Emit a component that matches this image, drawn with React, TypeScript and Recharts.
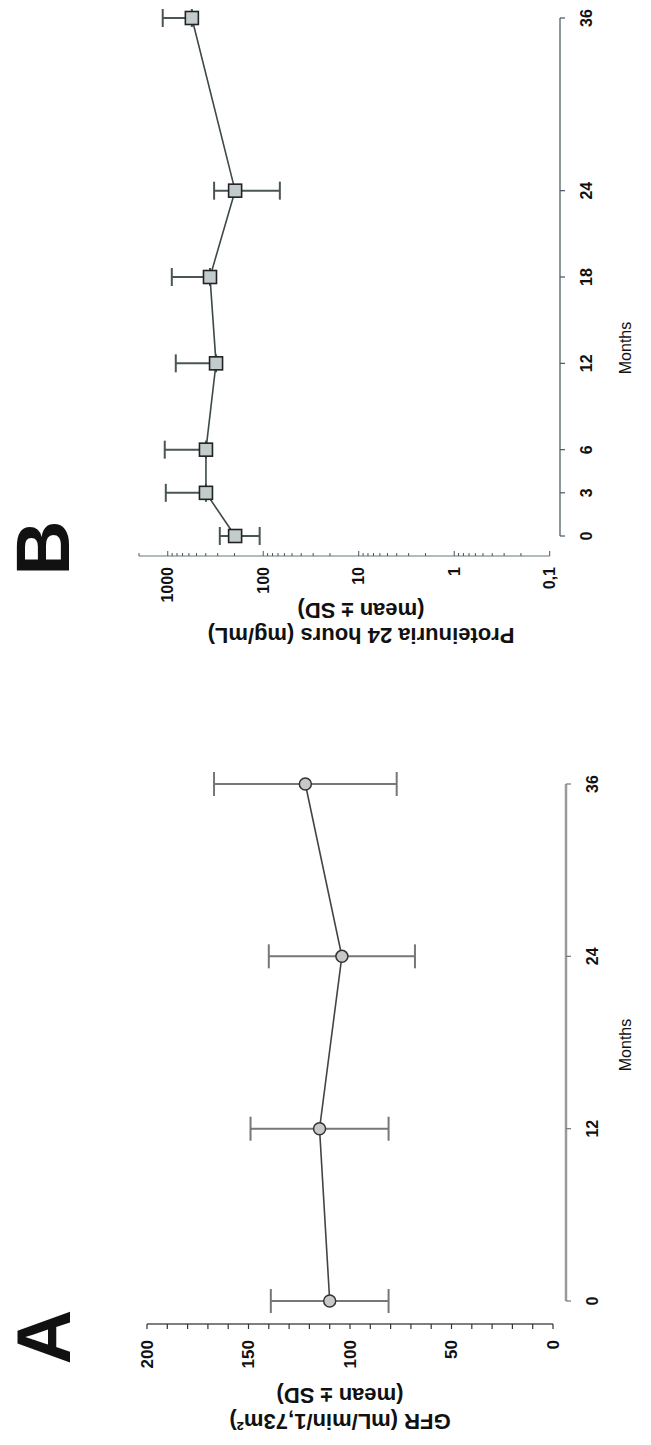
import { LineChart, Line, XAxis, YAxis, ErrorBar, ReferenceLine } from "recharts";

const FONT = '"Liberation Sans", Arial, sans-serif';

// Panel A: GFR
const gfrMonths = [0, 12, 24, 36];
const gfrMean = [110, 115, 104, 122];
const gfrSd = [29, 34, 36, 45];
const gfrTicks = [0, 10, 20, 30, 40, 50, 60, 70, 80, 90, 100, 110, 120, 130, 140, 150, 160, 170, 180, 190, 200];
const gfrLabelTicks = [0, 50, 100, 150, 200];
const gfrMonthTicks = [0, 12, 24, 36];

// Panel B: proteinuria
const protMonths = [0, 3, 6, 12, 18, 24, 36];
const protMean = [197, 398, 398, 312, 361, 197, 559];
const protSd = [88, 650, 677, 512, 546, 130, 570];
const protMajorTicks = [0.1, 1, 10, 100, 1000];
const protMajorLabels = ["0,1", "1", "10", "100", "1000"];
const protMinorTicks = [
  0.2, 0.3, 0.4, 0.5, 0.6, 0.7, 0.8, 0.9,
  2, 3, 4, 5, 6, 7, 8, 9,
  20, 30, 40, 50, 60, 70, 80, 90,
  200, 300, 400, 500, 600, 700, 800, 900, 2000,
];
const protMonthTicks = [0, 3, 6, 12, 18, 24, 36];

const A_X: [number, number] = [-1.6, 36];
const A_Y: [number, number] = [-6.4, 200];
const B_X: [number, number] = [-1.39, 36];
const B_Y: [number, number] = [0.078, 2000];

const gfrData = gfrMonths.map((m, i) => ({ month: m, gfr: gfrMean[i], err: gfrSd[i] }));
const protData = protMonths.map((m, i) => ({
  month: m,
  prot: protMean[i],
  // lower whisker is not drawn on the log axis when mean - SD <= 0
  err: [protMean[i] - protSd[i] > 0 ? protSd[i] : 0, protSd[i]],
}));

function GfrValueTick(props: any) {
  const { x, y, payload } = props;
  const v = payload.value;
  return (
    <g>
      <line x1={x} y1={y} x2={x - 5} y2={y} stroke="#333" strokeWidth={1.2} />
      {gfrLabelTicks.includes(v) && (
        <text x={x - 16} y={y} textAnchor="end" dominantBaseline="central" fontSize={17} fontWeight="bold" fontFamily={FONT} fill="#111">
          {v}
        </text>
      )}
    </g>
  );
}

function ProtValueTick(props: any) {
  const { x, y, payload } = props;
  const idx = protMajorTicks.indexOf(payload.value);
  return (
    <g>
      <line x1={x} y1={y} x2={x + (idx >= 0 ? 5 : 3)} y2={y} stroke="#456" strokeWidth={1} />
      {idx >= 0 && (
        <text x={x - 11} y={y} textAnchor="end" dominantBaseline="central" fontSize={16} fontWeight="bold" fontFamily={FONT} fill="#111">
          {protMajorLabels[idx]}
        </text>
      )}
    </g>
  );
}

function MonthTick(props: any) {
  const { x, y, payload, stroke } = props;
  return (
    <g>
      <line x1={x} y1={y} x2={x} y2={y + 5} stroke={stroke || "#444"} strokeWidth={1.2} />
      <text x={x} y={y + 32} textAnchor="middle" fontSize={16} fontWeight="bold" fontFamily={FONT} fill="#111">
        {payload.value}
      </text>
    </g>
  );
}

function SquareDot(props: any) {
  const { cx, cy, index } = props;
  if (cx == null || cy == null) return <g key={index} />;
  return <rect key={index} x={cx - 6.5} y={cy - 6.5} width={13} height={13} fill="#c3cccc" stroke="#222" strokeWidth={1.6} />;
}

export default function App() {
  return (
    <div
      style={{
        position: "absolute",
        left: 0,
        top: 0,
        width: 1445,
        height: 651,
        background: "#fff",
        transformOrigin: "0 0",
        transform: "translateY(1445px) rotate(-90deg)",
      }}
    >
      <div style={{ position: "absolute", left: 0, top: 0 }}>
        <LineChart width={700} height={651} data={gfrData} margin={{ top: 147, right: 39, bottom: 45, left: 81 }}>
          <XAxis
            dataKey="month"
            type="number"
            domain={A_X}
            ticks={gfrMonthTicks}
            axisLine={false}
            tickLine={false}
            tickSize={0}
            tickMargin={0}
            height={40}
            tick={(p: any) => <MonthTick {...p} stroke="#777" />}
          />
          <YAxis
            type="number"
            domain={A_Y}
            ticks={gfrTicks}
            interval={0}
            axisLine={false}
            tickLine={false}
            tickSize={0}
            tickMargin={0}
            width={40}
            tick={GfrValueTick}
          />
          <ReferenceLine ifOverflow="visible" segment={[{ x: A_X[0], y: 0 }, { x: A_X[0], y: 200 }]} stroke="#555" strokeWidth={1.3} />
          <ReferenceLine ifOverflow="visible" segment={[{ x: 0, y: A_Y[0] }, { x: 36, y: A_Y[0] }]} stroke="#9a9a9a" strokeWidth={2.5} />
          <Line
            dataKey="gfr"
            stroke="#444"
            strokeWidth={1.6}
            type="linear"
            isAnimationActive={false}
            dot={{ r: 6, fill: "#c8c8c8", stroke: "#333", strokeWidth: 1.5 }}
          >
            <ErrorBar dataKey="err" width={12} stroke="#777" strokeWidth={2} isAnimationActive={false} />
          </Line>
        </LineChart>
      </div>

      <div style={{ position: "absolute", left: 760, top: 0 }}>
        <LineChart width={685} height={651} data={protData} margin={{ top: 139, right: 18, bottom: 51, left: 79 }}>
          <XAxis
            dataKey="month"
            type="number"
            domain={B_X}
            ticks={protMonthTicks}
            axisLine={false}
            tickLine={false}
            tickSize={0}
            tickMargin={0}
            height={40}
            tick={(p: any) => <MonthTick {...p} stroke="#456" />}
          />
          <YAxis
            type="number"
            scale="log"
            domain={B_Y}
            ticks={[...protMajorTicks, ...protMinorTicks]}
            interval={0}
            axisLine={false}
            tickLine={false}
            tickSize={0}
            tickMargin={0}
            width={50}
            tick={ProtValueTick}
          />
          <ReferenceLine ifOverflow="visible" segment={[{ x: B_X[0], y: 0.1 }, { x: B_X[0], y: 2000 }]} stroke="#6a7878" strokeWidth={1.2} />
          <ReferenceLine ifOverflow="visible" segment={[{ x: 0, y: B_Y[0] }, { x: 36, y: B_Y[0] }]} stroke="#5f6d6d" strokeWidth={1.4} />
          <Line
            dataKey="prot"
            stroke="#3d4848"
            strokeWidth={1.6}
            type="linear"
            isAnimationActive={false}
            dot={SquareDot}
          >
            <ErrorBar dataKey="err" width={9} stroke="#4a5555" strokeWidth={2} isAnimationActive={false} />
          </Line>
        </LineChart>
      </div>

      <svg width={1445} height={651} style={{ position: "absolute", left: 0, top: 0, pointerEvents: "none" }} fontFamily={FONT} fill="#111">
        <text x={108} y={43} textAnchor="middle" dominantBaseline="central" fontSize={76} fontWeight="bold">A</text>
        <text transform="translate(24,340) rotate(-90)" textAnchor="middle" dominantBaseline="central" fontSize={22} fontWeight="bold">
          GFR (mL/min/1,73m²)
        </text>
        <text transform="translate(50,340) rotate(-90)" textAnchor="middle" dominantBaseline="central" fontSize={22} fontWeight="bold">
          (mean ± SD)
        </text>
        <text x={400} y={625} textAnchor="middle" dominantBaseline="central" fontSize={16}>Months</text>

        <text x={897} y={42} textAnchor="middle" dominantBaseline="central" fontSize={76} fontWeight="bold">B</text>
        <text transform="translate(810,361) rotate(-90)" textAnchor="middle" dominantBaseline="central" fontSize={22} fontWeight="bold">
          Proteinuria 24 hours (mg/mL)
        </text>
        <text transform="translate(835,361) rotate(-90)" textAnchor="middle" dominantBaseline="central" fontSize={22} fontWeight="bold">
          (mean ± SD)
        </text>
        <text x={1097} y={625} textAnchor="middle" dominantBaseline="central" fontSize={16}>Months</text>
      </svg>
    </div>
  );
}
